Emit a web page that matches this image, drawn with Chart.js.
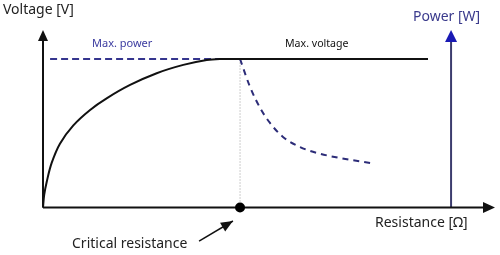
<!DOCTYPE html>
<html>
<head>
<meta charset="utf-8">
<script src="https://cdn.jsdelivr.net/npm/chart.js@4/dist/chart.umd.min.js"></script>
<style>
  html, body { margin: 0; padding: 0; background: #fff; }
  canvas { display: block; }
</style>
</head>
<body>
<canvas id="c" width="500" height="255"></canvas>
<script>
// Load resistance (normalised so the critical resistance is 1)
const criticalR = 1.0;
const maxR = 2.294;          // end of the resistance axis
const powerAxisR = 2.071;    // where the power axis stands
const topLevel = 1.195;      // top of the vertical axes

// Output voltage vs. resistance (normalised to maximum voltage)
const voltageR = [0, 0.006, 0.019, 0.044, 0.086, 0.154, 0.239, 0.323, 0.442, 0.577, 0.712, 0.831, 0.898, 1.0, 1.954];
const voltageV = [0, 0.085, 0.174, 0.300, 0.430, 0.553, 0.657, 0.735, 0.825, 0.904, 0.960, 0.993, 1.0, 1.0, 1.0];

// Power vs. resistance beyond the critical point
const powerR = [1.0, 1.051, 1.102, 1.152, 1.218, 1.305, 1.391, 1.508, 1.660];
const powerP = [1.0, 0.811, 0.670, 0.569, 0.475, 0.407, 0.367, 0.333, 0.300];

// Maximum power level
const maxPowerR = [0.036, 1.0];
const maxPowerLevel = 1.0;

// Pointer to the critical resistance marker
const pointerR = [0.792, 0.964];
const pointerY = [-0.226, -0.091];

const labels = {
  voltage: 'Voltage [V]',
  power: 'Power [W]',
  maxPower: 'Max. power',
  maxVoltage: 'Max. voltage',
  resistance: 'Resistance [Ω]',
  critical: 'Critical resistance'
};

const zip = (xs, ys) => xs.map((x, i) => ({ x, y: ys[i] }));

const line = (data, color, width, extra) => Object.assign({
  data, borderColor: color, backgroundColor: color, borderWidth: width,
  showLine: true, pointRadius: 0, fill: false, clip: false
}, extra || {});

const AXIS = '#111111';
const NAVY = '#2c2c78';

function head(ctx, fx, fy, tx, ty, len, halfW, color) {
  const a = Math.atan2(ty - fy, tx - fx);
  const bx = tx - len * Math.cos(a), by = ty - len * Math.sin(a);
  const nx = -Math.sin(a) * halfW, ny = Math.cos(a) * halfW;
  ctx.save();
  ctx.fillStyle = color;
  ctx.beginPath();
  ctx.moveTo(tx, ty);
  ctx.lineTo(bx + nx, by + ny);
  ctx.lineTo(bx - nx, by - ny);
  ctx.closePath();
  ctx.fill();
  ctx.restore();
}

const decorations = {
  id: 'decorations',
  afterDatasetsDraw(chart) {
    const ctx = chart.ctx;
    const xs = chart.scales.x, ys = chart.scales.y;
    const X = v => xs.getPixelForValue(v), Y = v => ys.getPixelForValue(v);

    // arrow heads
    head(ctx, X(0), Y(0), X(0), Y(topLevel), 11, 5, AXIS);
    head(ctx, X(powerAxisR), Y(0), X(powerAxisR), Y(topLevel), 12, 6, '#1a1ab4');
    head(ctx, X(0), Y(0), X(maxR), Y(0), 12, 5.5, AXIS);
    head(ctx, X(pointerR[0]), Y(pointerY[0]), X(pointerR[1]), Y(pointerY[1]), 12, 5, AXIS);

    ctx.save();
    ctx.textBaseline = 'alphabetic';
    ctx.textAlign = 'left';
    ctx.fillStyle = '#222222';
    ctx.font = '14px "Noto Sans"';
    ctx.fillText(labels.voltage, 3, 14);

    ctx.fillStyle = '#3a3a8c';
    ctx.font = '14px "Noto Sans"';
    ctx.fillText(labels.power, 413, 21);

    ctx.fillStyle = '#3b3ba0';
    ctx.font = '11px "Noto Sans"';
    ctx.fillText(labels.maxPower, 92, 47);

    ctx.fillStyle = '#111111';
    ctx.font = '10.6px "Noto Sans"';
    ctx.fillText(labels.maxVoltage, 285, 47);

    ctx.fillStyle = '#222222';
    ctx.font = '14px "Noto Sans"';
    ctx.fillText(labels.resistance, 375, 227);
    ctx.fillText(labels.critical, 72, 248);
    ctx.restore();
  }
};

new Chart(document.getElementById('c'), {
  type: 'scatter',
  data: {
    datasets: [
      // critical resistance marker
      { data: [{ x: criticalR, y: 0 }], pointRadius: 5, pointHoverRadius: 5,
        backgroundColor: '#000', borderColor: '#000', borderWidth: 0, clip: false },
      // voltage curve and maximum voltage
      line(zip(voltageR, voltageV), '#111111', 2, { tension: 0.35 }),
      // power decline
      line(zip(powerR, powerP), NAVY, 2, { borderDash: [6, 5], cubicInterpolationMode: 'monotone' }),
      // maximum power level
      line(zip(maxPowerR, maxPowerR.map(() => maxPowerLevel)), '#35358e', 2, { borderDash: [7, 4] }),
      // critical resistance guide
      line([{ x: criticalR, y: 0 }, { x: criticalR, y: maxPowerLevel }], '#9a9a9a', 1, { borderDash: [1, 2] }),
      // axes
      line([{ x: 0, y: 0 }, { x: 0, y: topLevel - 0.05 }], AXIS, 2),
      line([{ x: 0, y: 0 }, { x: maxR - 0.04, y: 0 }], AXIS, 2),
      line([{ x: powerAxisR, y: 0 }, { x: powerAxisR, y: topLevel - 0.05 }], '#3c3c6e', 2),
      // pointer to the critical resistance
      line(zip(pointerR, pointerY), AXIS, 1.5)
    ]
  },
  options: {
    responsive: false,
    animation: false,
    devicePixelRatio: 1,
    layout: { padding: { left: 43, right: 5, top: 30, bottom: 47.5 } },
    plugins: { legend: { display: false }, tooltip: { enabled: false } },
    scales: {
      x: { type: 'linear', min: 0, max: maxR, display: false },
      y: { type: 'linear', min: 0, max: topLevel, display: false }
    }
  },
  plugins: [decorations]
});
</script>
</body>
</html>
